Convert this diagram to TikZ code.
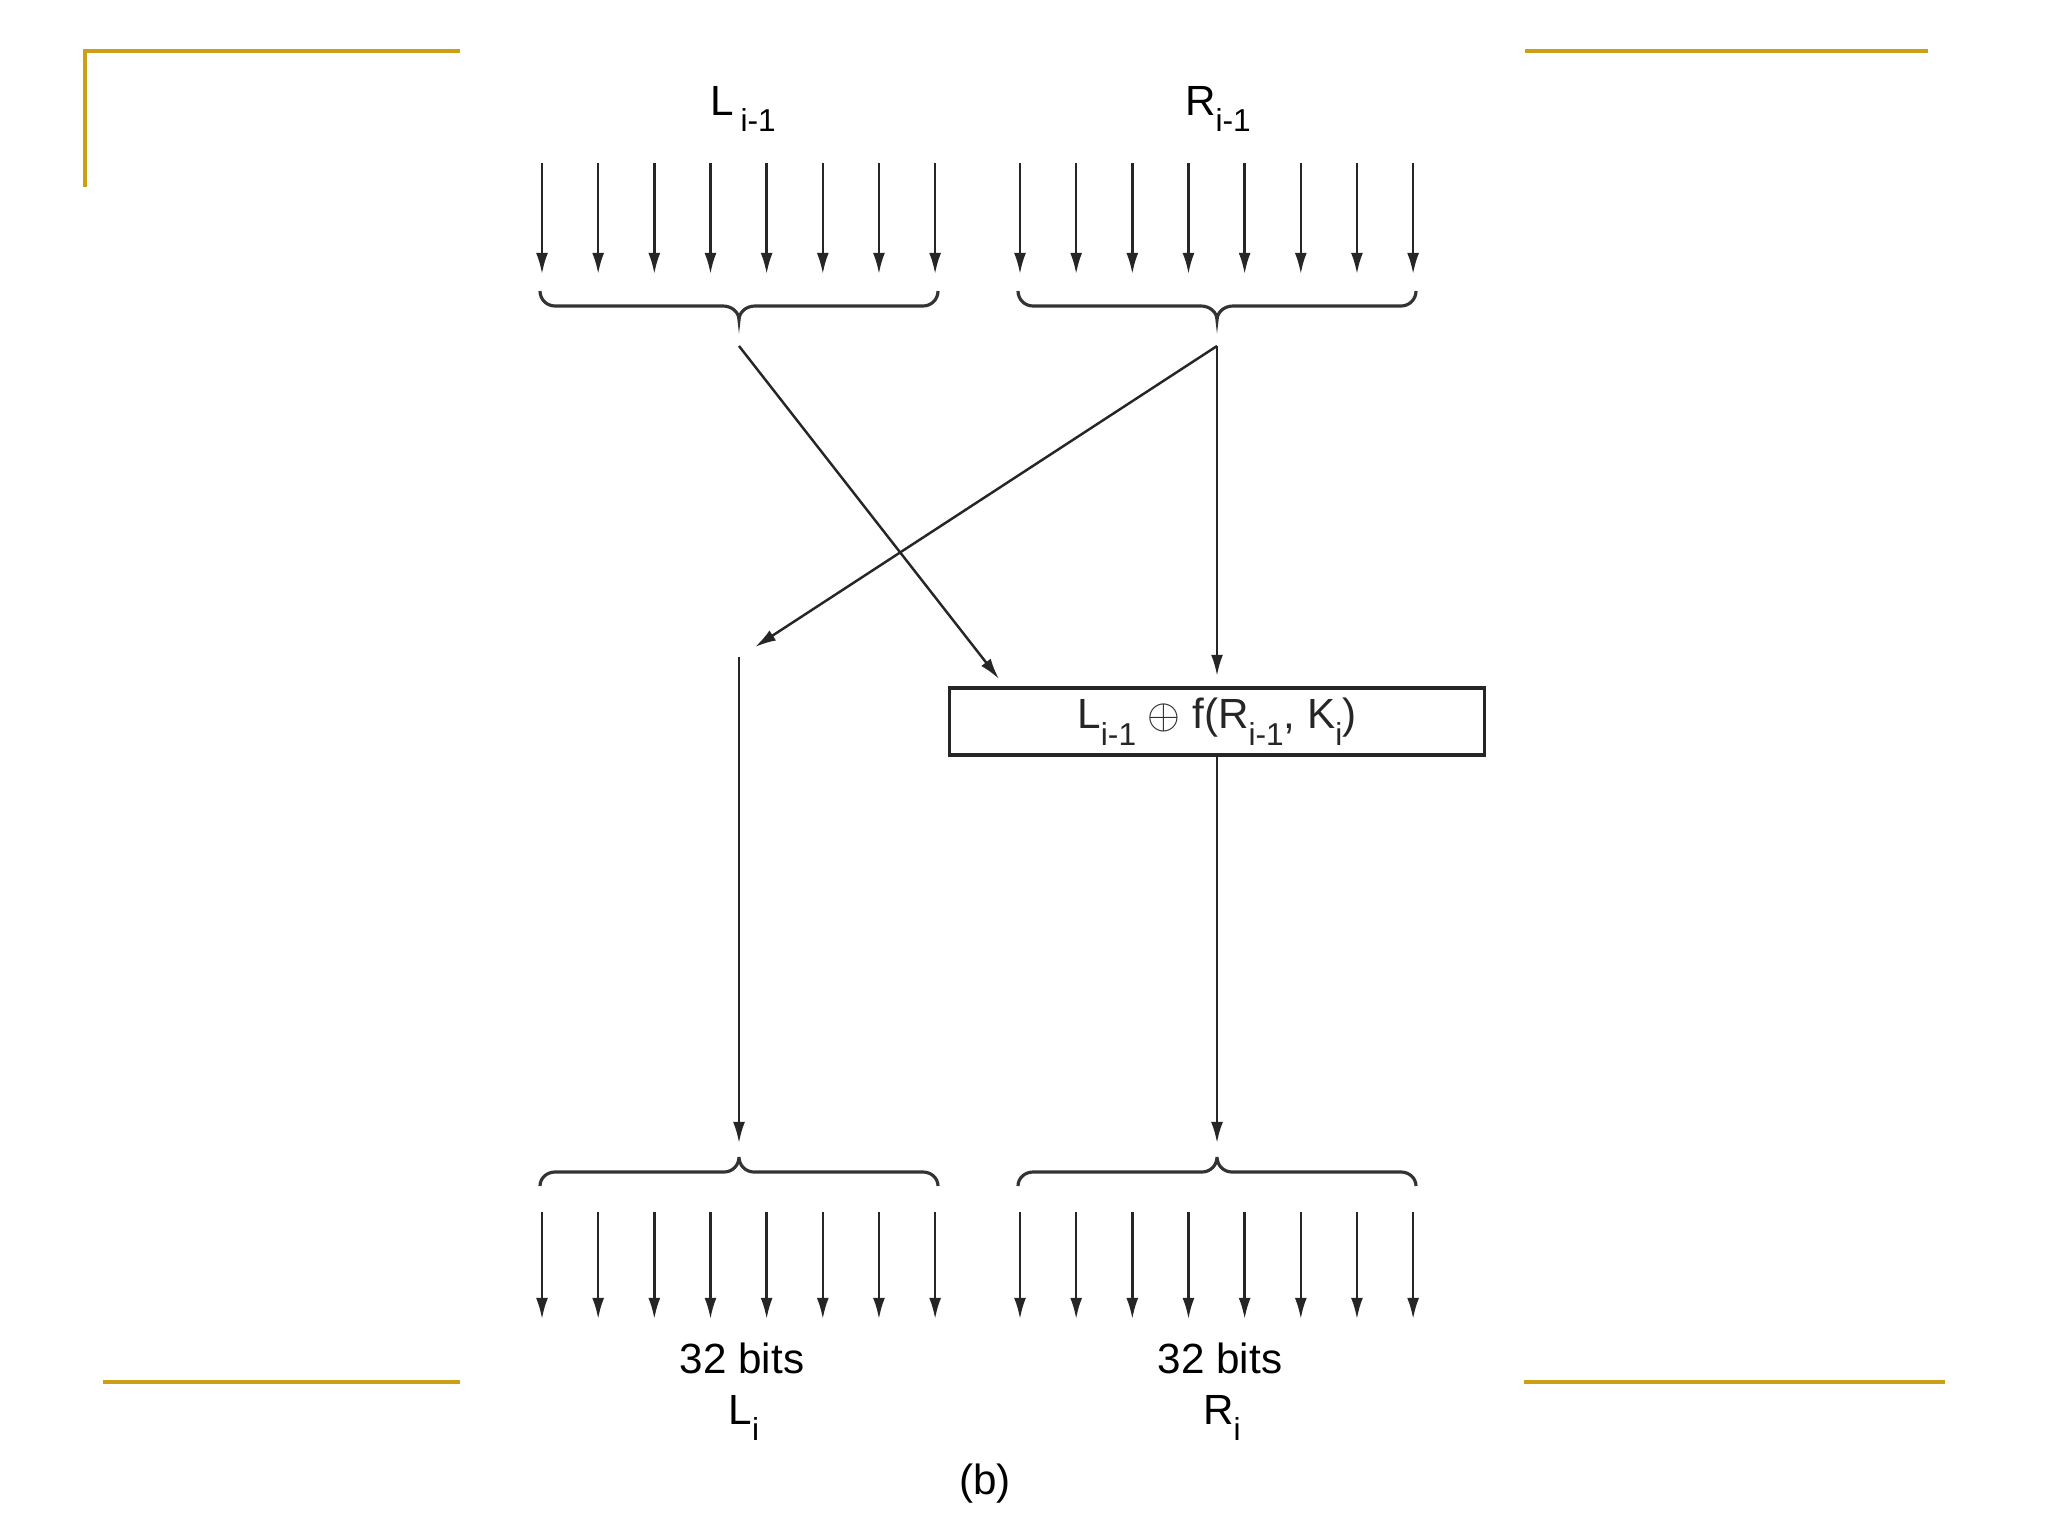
\documentclass[tikz,border=0pt]{standalone}
\usepackage{fontspec}
\setmainfont{Liberation Sans}
\usetikzlibrary{arrows.meta}
\definecolor{gold}{RGB}{204,160,20}
\newcommand\sbx[1]{\raisebox{-0.75ex}{\fontsize{9}{10}\selectfont #1}}
% brace with tip pointing down: left x, right x, middle x
\newcommand\braceDown[3]{%
  \draw[brc] (#1,291) to[out=-90,in=180] ({#1+15},306)
    -- ({#3-16},306) to[out=0,in=90] (#3,320)
    to[out=90,in=180] ({#3+16},306) -- ({#2-15},306)
    to[out=0,in=-90] (#2,291);}
% brace with tip pointing up
\newcommand\braceUp[3]{%
  \draw[brc] (#1,1186) to[out=90,in=180] ({#1+15},1172)
    -- ({#3-15},1172) to[out=0,in=-90] (#3,1157)
    to[out=-90,in=180] ({#3+15},1172) -- ({#2-15},1172)
    to[out=0,in=90] (#2,1186);}
\begin{document}
\begin{tikzpicture}[x=0.01cm,y=-0.01cm,
  ln/.style={line width=0.7pt, black!85},
  arr/.style={ln, -{Latex[length=6pt,width=3.4pt]}},
  brc/.style={line width=0.9pt, black!80},
  gl/.style={gold, line width=1.4pt},
  lbl/.style={font=\fontsize{12}{14}\selectfont, inner sep=0pt, anchor=base}]
\useasboundingbox (0,0) rectangle (2048,1536);
% gold frame lines
\draw[gl] (85,187) -- (85,51) -- (460,51);
\draw[gl] (1525,51) -- (1928,51);
\draw[gl] (103,1382) -- (460,1382);
\draw[gl] (1524,1382) -- (1945,1382);
% top labels
\node[lbl] (Lin) at (743,115) {L\hspace{2pt}\sbx{i-1}};
\node[lbl] (Rin) at (1218,115) {R\sbx{i-1}};
% bit arrows
\foreach \i in {0,...,7}{
  \coordinate (lt\i) at ({542+56.16*\i},163);
  \coordinate (ltb\i) at ({542+56.16*\i},274);
  \coordinate (rt\i) at ({1020+56.16*\i},163);
  \coordinate (rtb\i) at ({1020+56.16*\i},274);
  \draw[arr] (lt\i) -- (ltb\i);
  \draw[arr] (rt\i) -- (rtb\i);
  \coordinate (lb\i) at ({542+56.16*\i},1212);
  \coordinate (lbb\i) at ({542+56.16*\i},1319);
  \coordinate (rb\i) at ({1020+56.16*\i},1212);
  \coordinate (rbb\i) at ({1020+56.16*\i},1319);
  \draw[arr] (lb\i) -- (lbb\i);
  \draw[arr] (rb\i) -- (rbb\i);
}
% braces
\braceDown{540}{938}{739}
\braceDown{1018}{1416}{1217}
\braceUp{540}{938}{739}
\braceUp{1018}{1416}{1217}
% function box
\node[draw, line width=0.9pt, black!85, minimum width=5.34cm, minimum height=0.67cm, inner sep=0pt,
  font=\fontsize{12}{14}\selectfont] (F) at (1217,721.5) {L\sbx{i-1} $\oplus$ f(R\sbx{i-1}, K\sbx{i})};
% connectors
\coordinate (Lsrc) at (739,346);
\coordinate (Rsrc) at (1217,346);
\coordinate (Fin) at (999,679);
\coordinate (Ldst) at (755,647);
\coordinate (Lup) at (739,657);
\coordinate (Lbot) at (739,1143);
\coordinate (Rbot) at (1217,1143);
\draw[arr] (Lsrc) -- (Fin);
\draw[arr] (Rsrc) -- (Ldst);
\draw[arr, shorten >=3pt] (Rsrc) -- (F.north);
\draw[arr] (F.south) -- (Rbot);
\draw[arr] (Lup) -- (Lbot);
% bottom labels
\node[lbl] (Lb) at (742,1373) {32 bits};
\node[lbl] (Li) at (744,1424) {L\sbx{i}};
\node[lbl] (Rb) at (1220,1373) {32 bits};
\node[lbl] (Ri) at (1222,1424) {R\sbx{i}};
\node[lbl] (cap) at (985,1494) {(b)};
\end{tikzpicture}
\end{document}
